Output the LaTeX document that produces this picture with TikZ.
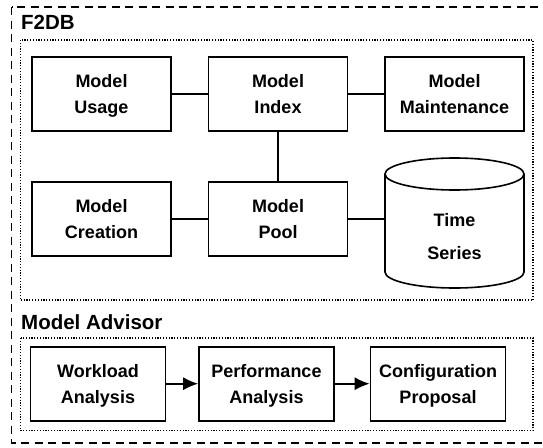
\documentclass[tikz,border=0pt]{standalone}
\usepackage{fontspec}
\setmainfont{Liberation Sans}
\usepackage{tikz}
\usetikzlibrary{arrows.meta}

\begin{document}
\begin{tikzpicture}[x=1pt,y=1pt]
\tikzstyle{every node}+=[inner sep=0pt]
\tikzstyle{part}=[draw, line width=1.6pt, minimum width=139pt, minimum height=74pt,
  align=center, font=\fontsize{18}{25.6}\selectfont\bfseries]
\tikzstyle{stage}=[part, minimum width=135pt]
\tikzstyle{title}=[anchor=base west, font=\fontsize{20.5}{24}\selectfont\bfseries]
\tikzstyle{link}=[line width=1.6pt]
\useasboundingbox (0,0) rectangle (543,-447);
% outer frame
\draw [line width=1.6pt, dash pattern=on 8pt off 5.5pt] (11.5,-7) rectangle (548,-442.7);
% F2DB
\node [title] (f2db) at (21,-29) {F2DB};
\draw [line width=1.3pt, dash pattern=on 1.2pt off 1.6pt] (20.5,-40) rectangle (533,-300);
\node [part] (usage) at (101.5,-94) {Model\\\smash{Usage}};
\node [part] (index) at (278,-94) {Model\\Index};
\node [part] (maint) at (454.5,-94) {Model\\Maintenance};
\node [part] (creation) at (101.5,-219) {Model\\Creation};
\node [part] (pool) at (278,-219) {Model\\Pool};
\node [align=center, minimum width=139pt, font=\fontsize{18}{33}\selectfont\bfseries]
  (series) at (454.5,-236.5) {Time\\Series};
\draw [link] (385,-174) -- (385,-272) arc [start angle=180, end angle=360, x radius=69.5, y radius=16] -- (524,-174);
\draw [link] (454.5,-174) ellipse [x radius=69.5, y radius=16];
\draw [link] (usage) -- (index);
\draw [link] (index) -- (maint);
\draw [link] (index) -- (pool);
\draw [link] (creation) -- (pool);
\draw [link] (pool.east) -- (pool -| series.west);
% Model Advisor
\node [title] (advisor) at (21,-329) {Model Advisor};
\draw [line width=1.3pt, dash pattern=on 1.2pt off 1.6pt] (20.5,-338) rectangle (533,-430.7);
\node [stage] (workload) at (98,-383.7) {Workload\\\smash{Analysis}};
\node [stage] (perf) at (266.5,-383.7) {Performance\\\smash{Analysis}};
\node [stage] (config) at (438,-383.7) {Configuration\\\smash{Proposal}};
\draw [link, -{Latex[length=15pt,width=13pt]}] (workload) -- (perf);
\draw [link, -{Latex[length=15pt,width=13pt]}] (perf) -- (config);
\end{tikzpicture}
\end{document}
